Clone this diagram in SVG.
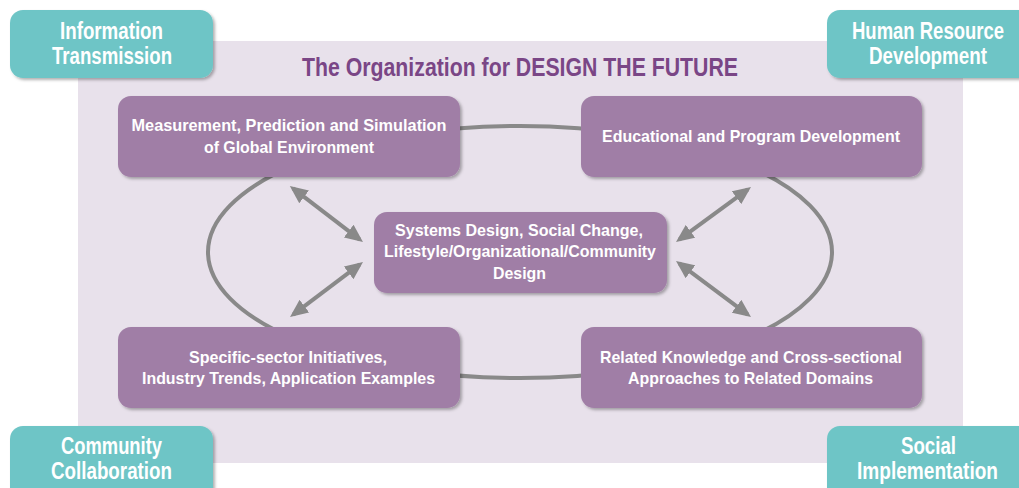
<svg xmlns="http://www.w3.org/2000/svg" width="1019" height="488" viewBox="0 0 1019 488">
<defs>
<filter id="sh" x="-10%" y="-10%" width="130%" height="140%">
<feDropShadow dx="2" dy="2" stdDeviation="1.5" flood-color="#000" flood-opacity="0.3"/>
</filter>
<marker id="ah" viewBox="0 0 18 16" markerUnits="userSpaceOnUse" markerWidth="18" markerHeight="16" refX="14" refY="8" orient="auto-start-reverse">
<path d="M0,0 L18,8 L0,16 z" fill="#898989"/>
</marker>
<style>
.teal{fill:#6ec5c6;filter:url(#sh)}
.box{fill:#a07ea6;filter:url(#sh)}
.tt{font-family:"Liberation Sans",Arial,sans-serif;font-weight:bold;font-size:23px;fill:#fff;text-anchor:middle}
.bt{font-family:"Liberation Sans",Arial,sans-serif;font-weight:bold;font-size:17px;fill:#fff;text-anchor:middle}
.arr{stroke:#898989;stroke-width:4;fill:none;marker-start:url(#ah);marker-end:url(#ah)}
</style>
</defs>
<rect x="0" y="0" width="1019" height="488" fill="#fff"/>
<rect id="panel" x="78" y="41" width="885" height="422" fill="#e8e1eb"/>
<text id="title" x="520" y="76" font-family="'Liberation Sans',Arial,sans-serif" font-weight="bold" font-size="25" fill="#7a4686" text-anchor="middle" textLength="436" lengthAdjust="spacingAndGlyphs">The Organization for DESIGN THE FUTURE</text>

<g id="connectors">
<ellipse cx="520" cy="252" rx="312" ry="126" fill="none" stroke="#898989" stroke-width="4"/>
<line class="arr" x1="293" y1="188.4" x2="359.8" y2="239.6"/>
<line class="arr" x1="359.8" y1="264.4" x2="293.2" y2="314.6"/>
<line class="arr" x1="747.8" y1="189.4" x2="679.2" y2="239.6"/>
<line class="arr" x1="679.2" y1="263.4" x2="747.8" y2="314.6"/>
</g>

<g id="info">
<rect class="teal" x="10" y="10" width="203" height="68" rx="13"/>
<text class="tt" x="111.5" y="39" textLength="103" lengthAdjust="spacingAndGlyphs">Information</text>
<text class="tt" x="112" y="64" textLength="120" lengthAdjust="spacingAndGlyphs">Transmission</text>
</g>
<g id="hrd">
<rect class="teal" x="827" y="10" width="215" height="68" rx="13"/>
<text class="tt" x="928" y="39" textLength="152" lengthAdjust="spacingAndGlyphs">Human Resource</text>
<text class="tt" x="928" y="64" textLength="118" lengthAdjust="spacingAndGlyphs">Development</text>
</g>
<g id="community">
<rect class="teal" x="10" y="426" width="203" height="80" rx="13"/>
<text class="tt" x="111.5" y="454" textLength="101" lengthAdjust="spacingAndGlyphs">Community</text>
<text class="tt" x="111.5" y="479" textLength="121" lengthAdjust="spacingAndGlyphs">Collaboration</text>
</g>
<g id="social">
<rect class="teal" x="827" y="426" width="215" height="80" rx="13"/>
<text class="tt" x="928.5" y="454" textLength="55" lengthAdjust="spacingAndGlyphs">Social</text>
<text class="tt" x="927.5" y="479" textLength="141" lengthAdjust="spacingAndGlyphs">Implementation</text>
</g>

<g id="measurement">
<rect class="box" x="118" y="96" width="342" height="81" rx="13"/>
<text class="bt" x="289" y="131" textLength="315" lengthAdjust="spacingAndGlyphs">Measurement, Prediction and Simulation</text>
<text class="bt" x="289" y="153" textLength="170" lengthAdjust="spacingAndGlyphs">of Global Environment</text>
</g>
<g id="educational">
<rect class="box" x="581" y="96" width="341" height="81" rx="13"/>
<text class="bt" x="751" y="142" textLength="298" lengthAdjust="spacingAndGlyphs">Educational and Program Development</text>
</g>
<g id="systems">
<rect class="box" x="374" y="212" width="293" height="81" rx="13"/>
<text class="bt" x="519" y="236" textLength="248" lengthAdjust="spacingAndGlyphs">Systems Design, Social Change,</text>
<text class="bt" x="520" y="257" textLength="272" lengthAdjust="spacingAndGlyphs">Lifestyle/Organizational/Community</text>
<text class="bt" x="519.5" y="279" textLength="53" lengthAdjust="spacingAndGlyphs">Design</text>
</g>
<g id="specific">
<rect class="box" x="118" y="327" width="342" height="81" rx="13"/>
<text class="bt" x="288" y="363" textLength="198" lengthAdjust="spacingAndGlyphs">Specific-sector Initiatives,</text>
<text class="bt" x="288.5" y="384" textLength="293" lengthAdjust="spacingAndGlyphs">Industry Trends, Application Examples</text>
</g>
<g id="related">
<rect class="box" x="581" y="327" width="341" height="81" rx="13"/>
<text class="bt" x="751" y="363" textLength="302" lengthAdjust="spacingAndGlyphs">Related Knowledge and Cross-sectional</text>
<text class="bt" x="750.5" y="384" textLength="245" lengthAdjust="spacingAndGlyphs">Approaches to Related Domains</text>
</g>
</svg>
